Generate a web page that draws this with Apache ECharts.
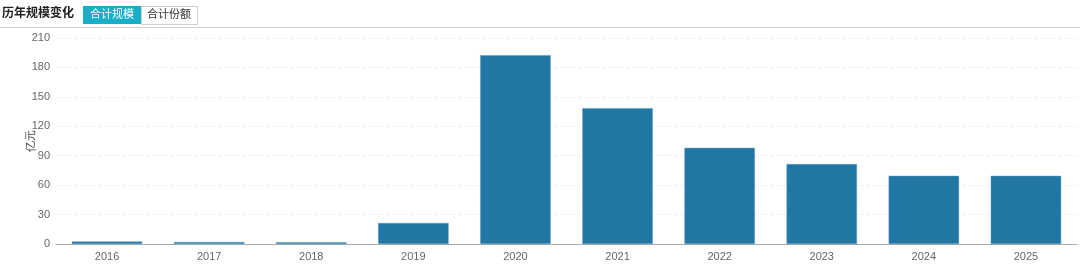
<!DOCTYPE html>
<html><head><meta charset="utf-8">
<script src="https://cdn.jsdelivr.net/npm/echarts@6/dist/echarts.min.js"></script>
<style>html,body{margin:0;padding:0;background:#fff}#c{width:1080px;height:265px}</style>
</head><body><div id="c"></div>
<script>
const categories = ['2016','2017','2018','2019','2020','2021','2022','2023','2024','2025'];
const scaleValues = [2.5, 2.0, 1.8, 21.5, 192.5, 138.5, 98.0, 81.5, 69.5, 69.5];
const yTicks = [0, 30, 60, 90, 120, 150, 180, 210];
const titleText = '历年规模变化';
const tabLabels = ['合计规模', '合计份额'];
const yName = '亿元';

const chart = echarts.init(document.getElementById('c'), null, {renderer: 'canvas'});
const font = '"Microsoft YaHei","Noto Sans CJK SC",sans-serif';
chart.setOption({
  animation: false,
  graphic: [
    {type: 'text', left: 2, top: 6, style: {text: titleText, font: 'bold 12px ' + font, fill: '#222'}},
    {type: 'rect', left: 83, top: 6, shape: {width: 58, height: 18}, style: {fill: '#19afc8'}},
    {type: 'text', left: 90, top: 8, style: {text: tabLabels[0], font: '11px ' + font, fill: '#fff'}},
    {type: 'rect', left: 141, top: 6, shape: {width: 56, height: 18}, style: {fill: '#fff', stroke: '#d0d0d0', lineWidth: 1}},
    {type: 'text', left: 147, top: 8, style: {text: tabLabels[1], font: '11px ' + font, fill: '#333'}},
    {type: 'rect', left: 0, top: 27, shape: {width: 1080, height: 1}, style: {fill: '#cfcfcf'}}
  ],
  grid: {left: 56, right: 3, top: 38, bottom: 21},
  xAxis: {
    type: 'category', data: categories,
    axisLine: {lineStyle: {color: '#aaa'}},
    axisTick: {lineStyle: {color: '#aaa'}},
    axisLabel: {color: '#666', fontSize: 11, margin: 7}
  },
  yAxis: {
    type: 'value', min: yTicks[0], max: yTicks[yTicks.length - 1], interval: 30,
    name: yName, nameLocation: 'middle', nameGap: 20, nameRotate: 90, nameMoveOverlap: false,
    nameTextStyle: {color: '#333', fontSize: 11},
    axisLine: {show: false}, axisTick: {show: false},
    axisLabel: {color: '#666', fontSize: 11, margin: 6},
    splitLine: {lineStyle: {color: '#eee', type: 'dashed'}}
  },
  series: [{
    type: 'bar', data: scaleValues, barWidth: '69%',
    itemStyle: {color: '#2276a3', borderColor: '#5a9cc0', borderWidth: 0.5}
  }]
});
</script></body></html>
